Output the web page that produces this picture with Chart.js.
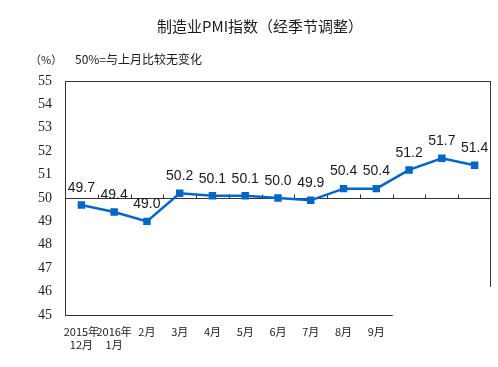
<!DOCTYPE html>
<html>
<head>
<meta charset="utf-8">
<script src="https://cdn.jsdelivr.net/npm/chart.js@4"></script>
<style>
  body { margin: 0; background: #fff; }
  canvas { display: block; }
</style>
</head>
<body>
<canvas id="pmi" width="498" height="367"></canvas>
<script>
// chart data
const months = [
  ['2015年', '12月'], ['2016年', '1月'], '2月', '3月', '4月', '5月',
  '6月', '7月', '8月', '9月', '', '', ''
];
const pmiValues = [49.7, 49.4, 49.0, 50.2, 50.1, 50.1, 50.0, 49.9, 50.4, 50.4, 51.2, 51.7, 51.4];
const yTicks = [45, 46, 47, 48, 49, 50, 51, 52, 53, 54, 55];

const titleText = '制造业PMI指数（经季节调整）';
const unitText = '（%）';
const noteText = '50%=与上月比较无变化';

// Frame, 50 line, texts and value labels
const decorPlugin = {
  id: 'decor',
  beforeDatasetsDraw(chart) {
    const { ctx, chartArea: a, scales: { x, y } } = chart;
    ctx.save();
    ctx.strokeStyle = '#333';
    ctx.lineWidth = 1;
    const y50 = Math.round(y.getPixelForValue(50)) + 0.5;
    ctx.beginPath();
    // top, left, bottom (partial), right (partial)
    ctx.moveTo(a.left, a.top + 0.5); ctx.lineTo(a.right, a.top + 0.5);
    ctx.moveTo(a.left + 0.5, a.top); ctx.lineTo(a.left + 0.5, a.bottom);
    ctx.moveTo(a.left, a.bottom + 0.5); ctx.lineTo(x.getPixelForValue(9.5), a.bottom + 0.5);
    ctx.moveTo(a.right - 0.5, a.top); ctx.lineTo(a.right - 0.5, y.getPixelForValue(46.2));
    // 50% line with small ticks
    ctx.moveTo(a.left, y50); ctx.lineTo(a.right, y50);
    for (let i = 0; i < pmiValues.length - 1; i++) {
      const tx = Math.round(x.getPixelForValue(i + 0.5)) + 0.5;
      ctx.moveTo(tx, y50); ctx.lineTo(tx, y50 - 4);
    }
    ctx.stroke();
    ctx.restore();
  },
  afterDatasetsDraw(chart) {
    const { ctx } = chart;
    ctx.save();
    ctx.fillStyle = '#1a1a1a';
    ctx.textAlign = 'center';
    ctx.textBaseline = 'middle';
    ctx.font = '15px "Noto Sans CJK SC"';
    ctx.fillText(titleText, 260, 26);
    ctx.textAlign = 'left';
    ctx.font = '11px "Noto Sans CJK SC"';
    ctx.fillText(unitText, 30, 60);
    ctx.font = '12px "Noto Sans CJK SC"';
    ctx.fillText(noteText, 75, 59);
    // value labels
    ctx.textAlign = 'center';
    ctx.font = '14px "Liberation Sans", Arial, sans-serif';
    chart.getDatasetMeta(0).data.forEach((pt, i) => {
      ctx.fillText(pmiValues[i].toFixed(1), pt.x, pt.y - 17);
    });
    ctx.restore();
  }
};

new Chart(document.getElementById('pmi'), {
  type: 'line',
  data: {
    labels: months,
    datasets: [{
      data: pmiValues,
      borderColor: '#0066cc',
      backgroundColor: '#0066cc',
      borderWidth: 2.5,
      pointStyle: 'rect',
      pointRadius: 3.5,
      tension: 0
    }]
  },
  options: {
    responsive: false,
    animation: false,
    layout: { padding: { top: 81, right: 7, left: 0, bottom: 0 } },
    plugins: {
      legend: { display: false },
      tooltip: { enabled: false }
    },
    scales: {
      x: {
        type: 'category',
        offset: true,
        grid: { display: false, drawTicks: false },
        border: { display: false },
        ticks: {
          autoSkip: false,
          maxRotation: 0,
          padding: 10,
          color: '#222',
          font: { family: '"Noto Sans CJK SC"', size: 11, lineHeight: 1.2 }
        },
        afterFit(s) { s.height = 52; }
      },
      y: {
        min: 45,
        max: 55,
        afterBuildTicks(s) { s.ticks = yTicks.map(v => ({ value: v })); },
        grid: { display: false, drawTicks: false },
        border: { display: false },
        ticks: {
          padding: 13,
          color: '#222',
          font: { family: '"Liberation Serif", serif', size: 14 }
        },
        afterFit(s) { s.width = 65; }
      }
    }
  },
  plugins: [decorPlugin]
});
</script>
</body>
</html>
